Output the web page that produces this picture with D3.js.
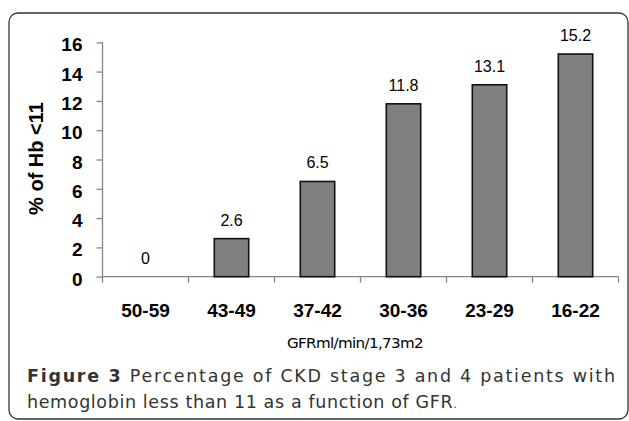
<!DOCTYPE html>
<html>
<head>
<meta charset="utf-8">
<script src="https://cdn.jsdelivr.net/npm/d3@7"></script>
<style>
  html, body { margin: 0; padding: 0; background: #fff; }
  svg { display: block; }
</style>
</head>
<body>
<svg id="chart" width="629" height="421"></svg>
<script>
const categories = ["50-59", "43-49", "37-42", "30-36", "23-29", "16-22"];
const values = [0, 2.6, 6.5, 11.8, 13.1, 15.2];
const valueLabels = ["0", "2.6", "6.5", "11.8", "13.1", "15.2"];
const yTicks = [0, 2, 4, 6, 8, 10, 12, 14, 16];
const yTitle = "% of Hb <11";
const xTitle = "GFRml/min/1,73m2";
const captionBold = "Figure 3";
const captionLine1 = " Percentage of CKD stage 3 and 4 patients with";
const captionLine2 = "hemoglobin less than 11 as a function of GFR";

const svg = d3.select("#chart");

// frame
svg.append("rect")
  .attr("x", 9).attr("y", 13).attr("width", 619).attr("height", 406)
  .attr("rx", 9).attr("ry", 9)
  .attr("fill", "none").attr("stroke", "#333").attr("stroke-width", 1.3);

const x = d3.scaleBand().domain(categories).range([102.5, 618.5]).padding(0);
const y = d3.scaleLinear().domain([0, 16]).range([276.7, 42.3]);
const axisColor = "#868686";

// y axis
const yAxis = svg.append("g").attr("transform", "translate(102.5,0)")
  .call(d3.axisLeft(y).tickValues(yTicks).tickSize(6).tickFormat(d3.format("d")));
yAxis.select(".domain").attr("stroke", axisColor).attr("stroke-width", 1.3).attr("d", `M0,${y(16)}V${y(0)}`);
yAxis.selectAll(".tick line").attr("stroke", axisColor).attr("stroke-width", 1.3);
yAxis.selectAll(".tick text")
  .attr("x", -20).attr("dy", "0.45em")
  .attr("fill", "#000")
  .style("font-family", "'Liberation Sans', Arial, sans-serif")
  .style("font-weight", "bold").style("font-size", "19px");

// x axis
const xAxisG = svg.append("g").attr("transform", `translate(0,${y(0)})`);
xAxisG.append("line")
  .attr("x1", x.range()[0]).attr("x2", x.range()[1])
  .attr("y1", 0).attr("y2", 0)
  .attr("stroke", axisColor).attr("stroke-width", 1.3);
const boundaries = categories.map(c => x(c)).concat([x.range()[1]]);
xAxisG.selectAll("line.xt").data(boundaries).enter().append("line")
  .attr("class", "xt")
  .attr("x1", d => d).attr("x2", d => d)
  .attr("y1", 0).attr("y2", 6)
  .attr("stroke", axisColor).attr("stroke-width", 1.3);
xAxisG.selectAll("text.xl").data(categories).enter().append("text")
  .attr("class", "xl")
  .attr("x", d => x(d) + x.bandwidth() / 2)
  .attr("y", 40)
  .attr("text-anchor", "middle")
  .attr("fill", "#000")
  .style("font-family", "'Liberation Sans', Arial, sans-serif")
  .style("font-weight", "bold").style("font-size", "19px")
  .text(d => d);

// bars
const barW = x.bandwidth() * 0.4;
svg.selectAll("rect.bar").data(values).enter().append("rect")
  .attr("class", "bar")
  .attr("x", (d, i) => x(categories[i]) + (x.bandwidth() - barW) / 2)
  .attr("y", d => y(d))
  .attr("width", barW)
  .attr("height", d => y(0) - y(d))
  .attr("fill", d => d > 0 ? "#808080" : "none")
  .attr("stroke", d => d > 0 ? "#111" : "none")
  .attr("stroke-width", 1.6);

// value labels
svg.selectAll("text.vl").data(values).enter().append("text")
  .attr("class", "vl")
  .attr("x", (d, i) => x(categories[i]) + x.bandwidth() / 2)
  .attr("y", d => y(d) - 13)
  .attr("text-anchor", "middle")
  .attr("fill", "#000")
  .style("font-family", "'Liberation Sans', Arial, sans-serif")
  .style("font-size", "16px")
  .text((d, i) => valueLabels[i]);

// y title
svg.append("text")
  .attr("transform", "translate(43,158.5) rotate(-90)")
  .attr("text-anchor", "middle")
  .attr("fill", "#000")
  .style("font-family", "'Liberation Sans', Arial, sans-serif")
  .style("font-weight", "bold").style("font-size", "20px")
  .text(yTitle);

// x title
svg.append("text")
  .attr("x", 287).attr("y", 348)
  .attr("textLength", 136).attr("lengthAdjust", "spacingAndGlyphs")
  .attr("fill", "#000")
  .style("font-family", "'DejaVu Sans', sans-serif")
  .style("font-size", "14px")
  .style("letter-spacing", "-0.6px")
  .text(xTitle);

// caption
const cap1 = svg.append("text")
  .attr("x", 27).attr("y", 382)
  .attr("textLength", 588).attr("lengthAdjust", "spacing")
  .attr("fill", "#333")
  .style("font-family", "'DejaVu Sans', sans-serif")
  .style("font-size", "17.5px");
cap1.append("tspan").style("font-weight", "bold").text(captionBold);
cap1.append("tspan").text(captionLine1);

const cap2 = svg.append("text")
  .attr("x", 27).attr("y", 408)
  .attr("textLength", 430).attr("lengthAdjust", "spacing")
  .attr("fill", "#333")
  .style("font-family", "'DejaVu Sans', sans-serif")
  .style("font-size", "17.5px");
cap2.append("tspan").text(captionLine2);
cap2.append("tspan").style("font-size", "12px").attr("fill", "#555").text(".");
</script>
</body>
</html>
